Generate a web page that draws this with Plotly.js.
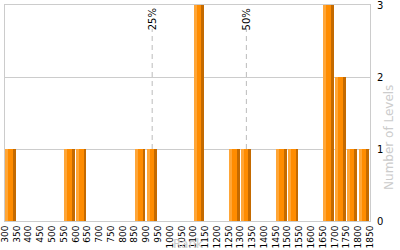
<!DOCTYPE html>
<html><head><meta charset="utf-8">
<script src="https://cdn.plot.ly/plotly-3.0.1.min.js"></script>
<style>html,body{margin:0;padding:0;background:#fff}#chart{width:400px;height:250px}</style>
</head><body><div id="chart"></div>
<script>
const binStart = [300,550,600,850,900,1100,1250,1300,1450,1500,1650,1700,1750,1800];
const levels   = [1,1,1,1,1,3,1,1,1,1,3,2,1,1];
const tickVals = [];
for (let v = 300; v <= 1850; v += 50) tickVals.push(v);
const quartiles = [925, 1325];
const quartileLabels = ['25%', '50%'];

const font = 'DejaVu Sans, Verdana, sans-serif';
function part(color, offset, width) {
  return {type:'bar', x:binStart, y:levels, offset:offset, width:width,
    marker:{color:color, line:{width:0}}, hoverinfo:'skip', showlegend:false};
}
const data = [
  part('#FFA637', 2, 12),
  part('#FF8C00', 14, 20),
  part('#C46A00', 34, 12)
];
const shapes = quartiles.map(q => ({type:'line', xref:'x', yref:'y', x0:q, x1:q, y0:0, y1:2.67, layer:'below',
  line:{color:'#bbbbbb', width:1, dash:'5px,4px'}}));
const annotations = quartiles.map((q,i) => ({xref:'x', yref:'paper', x:q, y:0.995, text:quartileLabels[i],
  textangle:-90, xanchor:'center', yanchor:'top', showarrow:false, font:{family:font, size:10, color:'#000'}}));
annotations.push({xref:'paper', yref:'paper', x:0.5, y:-0.066, yanchor:'top', xanchor:'center', text:'Rank',
  showarrow:false, font:{family:font, size:12, color:'#cccccc'}});
annotations.push({xref:'paper', yref:'paper', x:1.052, y:0.389, xanchor:'center', yanchor:'middle', textangle:-90,
  text:'Number of Levels', showarrow:false, font:{family:font, size:12, color:'#cccccc'}});

const layout = {
  width:400, height:250, margin:{l:5, r:30, t:5, b:29},
  paper_bgcolor:'#fff', plot_bgcolor:'#fff', barmode:'overlay', bargap:0,
  xaxis:{range:[300,1850], tickvals:tickVals, ticktext:tickVals.map(String), tickangle:-90,
    showgrid:false, zeroline:false, showline:true, mirror:true, linecolor:'#cccccc', linewidth:1,
    ticks:'', ticklabeloverflow:'allow', tickfont:{family:font, size:9, color:'#000'}, fixedrange:true},
  yaxis:{range:[0,3], side:'right', tickvals:[0,1,2,3], showgrid:true, gridcolor:'#cccccc', zeroline:false,
    showline:true, mirror:true, linecolor:'#cccccc', linewidth:1, ticks:'', ticklabelstandoff:4,
    ticklabeloverflow:'allow', tickfont:{family:font, size:10, color:'#000'}, fixedrange:true},
  shapes:shapes, annotations:annotations
};
Plotly.newPlot('chart', data, layout, {displayModeBar:false, staticPlot:true});
</script></body></html>
